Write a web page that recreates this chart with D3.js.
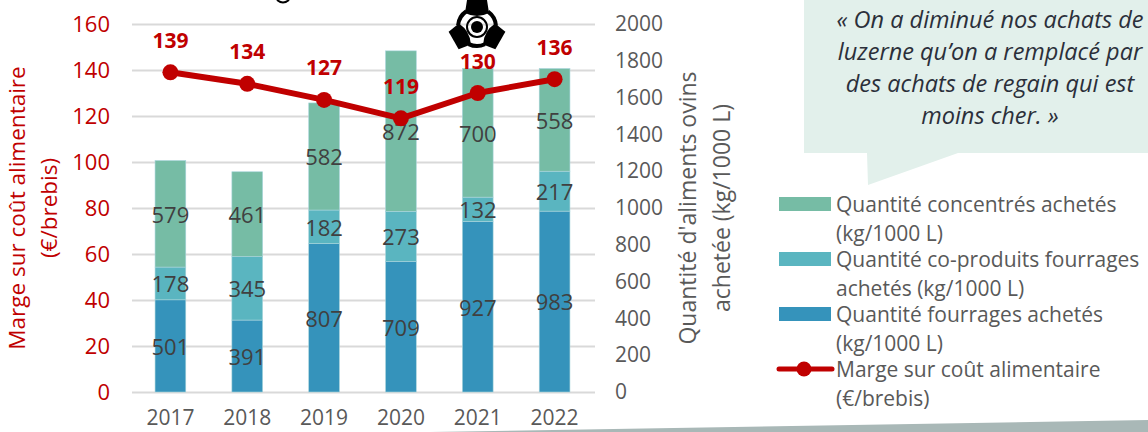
<!DOCTYPE html>
<html lang="fr">
<head>
<meta charset="utf-8">
<script src="https://cdn.jsdelivr.net/npm/d3@7"></script>
<style>
  html, body { margin: 0; padding: 0; background: #fff; overflow: hidden; }
  svg { display: block; }
  text { font-family: "Open Sans", sans-serif; }
  .axis path { display: none; }
  .axis line { stroke: #d9d9d9; stroke-width: 2; }
</style>
</head>
<body>
<svg id="chart" width="1148" height="432"></svg>
<script>
const years = ["2017", "2018", "2019", "2020", "2021", "2022"];
const fourrages = [501, 391, 807, 709, 927, 983];
const coProduits = [178, 345, 182, 273, 132, 217];
const concentres = [579, 461, 582, 872, 700, 558];
const marge = [139, 134, 127, 119, 130, 136];
const marginTicks = [0, 20, 40, 60, 80, 100, 120, 140, 160];
const quantityTicks = [0, 200, 400, 600, 800, 1000, 1200, 1400, 1600, 1800, 2000];
const quote = [
  "« On a diminué nos achats de",
  "luzerne qu’on a remplacé par",
  "des achats de regain qui est",
  "moins cher. »"
];
const legendLabels = [
  ["Quantité concentrés achetés", "(kg/1000 L)"],
  ["Quantité co-produits fourrages", "achetés (kg/1000 L)"],
  ["Quantité fourrages achetés", "(kg/1000 L)"],
  ["Marge sur coût alimentaire", "(€/brebis)"]
];

const RED = "#c00000", GREY = "#595959", LABEL = "#404040";
const stackColors = { fourrages: "#3593bb", coProduits: "#5ab5c0", concentres: "#76bca5" };

const svg = d3.select("#chart");
const rows = years.map((year, i) => ({
  year, fourrages: fourrages[i], coProduits: coProduits[i], concentres: concentres[i]
}));

const x = d3.scaleBand().domain(years).range([132, 593]).paddingInner(0.6).paddingOuter(0.3);
const yMargin = d3.scaleLinear().domain([0, 160]).range([392, 24]);
const yQuantity = d3.scaleLinear().domain([0, 2000]).range([392, 24]);
const center = d => x(d) + x.bandwidth() / 2;

// Speech bubble behind the quote
svg.append("path")
  .attr("d", "M804,0H1148V153H958L868,185L867,153H804Z")
  .attr("fill", "#e2f0eb");

// Horizontal gridlines come from the left axis ticks
svg.append("g")
  .attr("class", "axis")
  .attr("transform", "translate(132,0)")
  .call(d3.axisLeft(yMargin).tickValues(marginTicks).tickSize(-463).tickPadding(22))
  .call(g => g.selectAll("text")
    .attr("fill", RED).attr("font-size", 22).attr("font-family", "Open Sans"));

svg.append("g")
  .attr("class", "axis")
  .attr("transform", "translate(593,0)")
  .call(d3.axisRight(yQuantity).tickValues(quantityTicks).tickFormat(d3.format("d")).tickSize(0).tickPadding(22))
  .call(g => g.selectAll("text")
    .attr("fill", GREY).attr("font-size", 21).attr("font-family", "Open Sans"));

svg.append("g")
  .attr("class", "axis")
  .attr("transform", "translate(0,392)")
  .call(d3.axisBottom(x).tickSize(0).tickPadding(18.5))
  .call(g => g.selectAll("text")
    .attr("fill", GREY).attr("font-size", 21).attr("font-family", "Open Sans"));

// Grey band along the bottom edge
svg.append("path")
  .attr("d", "M430,432L1148,420V432Z")
  .attr("fill", "#a9b8b7");

// Stacked quantities
const keys = ["fourrages", "coProduits", "concentres"];
const layers = d3.stack().keys(keys)(rows);
const layerGroups = svg.selectAll("g.layer").data(layers).join("g").attr("class", "layer");
layerGroups.selectAll("rect")
  .data(layer => layer.map(d => ({ d, key: layer.key })))
  .join("rect")
  .attr("x", v => x(v.d.data.year))
  .attr("width", x.bandwidth())
  .attr("y", v => yQuantity(v.d[1]))
  .attr("height", v => yQuantity(v.d[0]) - yQuantity(v.d[1]))
  .attr("fill", v => stackColors[v.key])
  .attr("stroke", "#a9d5dc")
  .attr("stroke-width", 0.6);
layerGroups.selectAll("text")
  .data(layer => layer.map(d => ({ d, key: layer.key })))
  .join("text")
  .attr("x", v => center(v.d.data.year))
  .attr("y", v => yQuantity((v.d[0] + v.d[1]) / 2) + 1)
  .attr("dy", "0.36em")
  .attr("text-anchor", "middle")
  .attr("font-size", 22)
  .attr("fill", LABEL)
  .text(v => v.d.data[v.key]);

// Margin line with its markers
const line = d3.line().x((d, i) => center(years[i])).y(d => yMargin(d));
svg.append("path")
  .datum(marge)
  .attr("d", line)
  .attr("fill", "none")
  .attr("stroke", RED)
  .attr("stroke-width", 6)
  .attr("stroke-linejoin", "round");
svg.selectAll("circle.point").data(marge).join("circle")
  .attr("class", "point")
  .attr("cx", (d, i) => center(years[i]))
  .attr("cy", d => yMargin(d))
  .attr("r", 8)
  .attr("fill", RED);

// Fan pictogram above the 2021 column
const icon = svg.append("g").attr("transform", "translate(477,27)").attr("fill", "#000");
d3.range(3).forEach(k => {
  const blade = icon.append("g").attr("transform", `rotate(${k * 120})`);
  blade.append("path").attr("d", "M-10,-27L-12,-14Q0,-8 12,-14L10,-27Z");
  blade.append("path")
    .attr("d", d3.arc()({ innerRadius: 17, outerRadius: 21, startAngle: 0.62, endAngle: 1.5 }));
});
icon.append("circle").attr("r", 10).attr("fill", "none").attr("stroke", "#000").attr("stroke-width", 2);
icon.append("circle").attr("r", 6);

// Small descender of the heading cut off by the top edge
svg.append("path")
  .attr("d", "M277,0Q283,5 289,0")
  .attr("fill", "none")
  .attr("stroke", "#000")
  .attr("stroke-width", 2);

// Margin values, drawn over the pictogram
svg.selectAll("text.value").data(marge).join("text")
  .attr("class", "value")
  .attr("x", (d, i) => center(years[i]))
  .attr("y", d => yMargin(d) - 32)
  .attr("dy", "0.36em")
  .attr("text-anchor", "middle")
  .attr("font-size", 21)
  .attr("font-weight", 700)
  .attr("fill", RED)
  .text(d => d);

// Axis titles
function verticalTitle(lines, xs, color, size) {
  svg.selectAll(null).data(lines).join("text")
    .attr("transform", (d, i) => `translate(${xs[i]},208) rotate(-90)`)
    .attr("text-anchor", "middle")
    .attr("font-size", size)
    .attr("fill", color)
    .text(d => d);
}
verticalTitle(["Marge sur coût alimentaire", "(€/brebis)"], [25, 57], RED, 22.5);
verticalTitle(["Quantité d'aliments ovins", "achetée (kg/1000 L)"], [696, 730], GREY, 23);

// Quote inside the bubble
svg.selectAll("text.quote").data(quote).join("text")
  .attr("class", "quote")
  .attr("x", 990)
  .attr("y", (d, i) => 28 + i * 32)
  .attr("text-anchor", "middle")
  .attr("font-size", 23.5)
  .attr("font-style", "italic")
  .attr("fill", "#2b2f3a")
  .text(d => d);

// Legend
const legendY = [212, 267, 322, 377];
const legendColors = [stackColors.concentres, stackColors.coProduits, stackColors.fourrages];
const legend = svg.selectAll("g.legend").data(legendLabels).join("g")
  .attr("class", "legend")
  .attr("transform", (d, i) => `translate(0,${legendY[i]})`);
legend.filter((d, i) => i < 3).append("rect")
  .attr("x", 779).attr("y", -15).attr("width", 52).attr("height", 14)
  .attr("fill", (d, i) => legendColors[i]);
const key = legend.filter((d, i) => i === 3);
key.append("line")
  .attr("x1", 779).attr("x2", 832).attr("y1", -8).attr("y2", -8)
  .attr("stroke", RED).attr("stroke-width", 5).attr("stroke-linecap", "round");
key.append("circle").attr("cx", 804).attr("cy", -8).attr("r", 7.5).attr("fill", RED);
legend.selectAll("text").data(d => d).join("text")
  .attr("x", 836)
  .attr("y", (d, i) => i * 28.5)
  .attr("font-size", 21)
  .attr("fill", GREY)
  .text(d => d);
</script>
</body>
</html>
